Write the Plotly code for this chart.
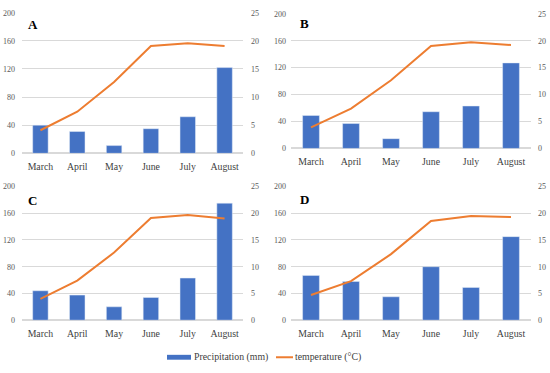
import plotly.graph_objects as go

months = ["March", "April", "May", "June", "July", "August"]
panel_labels = ["A", "B", "C", "D"]
precip_A = [40, 31, 11, 35, 52, 122]
precip_B = [49, 37, 14.5, 54.5, 63, 127]
precip_C = [44, 37.5, 20, 34, 63, 175]
precip_D = [67, 58, 35, 80, 49, 125]
temp_A = [4.1, 7.4, 12.7, 19.1, 19.6, 19.1]
temp_B = [3.9, 7.4, 12.65, 19.0, 19.7, 19.2]
temp_C = [4.0, 7.4, 12.65, 19.1, 19.65, 19.0]
temp_D = [4.7, 7.3, 12.35, 18.55, 19.5, 19.3]
precip_ticks = [0, 40, 80, 120, 160, 200]
temp_ticks = [0, 5, 10, 15, 20, 25]
legend_names = ["Precipitation (mm)", "temperature (°C)"]

precip = [precip_A, precip_B, precip_C, precip_D]
temp = [temp_A, temp_B, temp_C, temp_D]

W, H = 550, 373
# pixel boxes: (x0, x1, y_top(200), y_bottom(0))
boxes = [(22, 243, 9, 153), (291, 531, 10, 148), (22, 243, 187, 324), (291, 531, 187, 324)]
left_standoff = [6, 4, 6, 4]
right_standoff = [7, 6, 7, 6]

BLUE = "#4472C4"
ORANGE = "#ED7D31"
FONT = "Liberation Serif"
TICKC = "#595959"

fig = go.Figure()
layout = {}
for i in range(4):
    n = i + 1
    xs = "" if n == 1 else str(n)
    x0, x1, yt, yb = boxes[i]
    xdom = [x0 / W, x1 / W]
    ydom = [1 - yb / H, 1 - yt / H]
    fig.add_trace(go.Bar(x=months, y=precip[i], marker_color=BLUE,
                         name=legend_names[0], showlegend=False,
                         xaxis="x" + xs, yaxis="y" + xs))
    fig.add_trace(go.Scatter(x=months, y=temp[i], mode="lines",
                             line=dict(color=ORANGE, width=2),
                             name=legend_names[1], showlegend=False,
                             xaxis="x" + xs, yaxis="y" + str(n + 4)))
    layout["xaxis" + xs] = dict(domain=xdom, anchor="y" + xs, showgrid=False,
                                showline=False, ticks="",
                                tickfont=dict(family=FONT, size=9.8, color="#404040"),
                                ticklabelstandoff=6)
    layout["yaxis" + xs] = dict(domain=ydom, anchor="x" + xs, range=[0, 200],
                                tickvals=precip_ticks, showgrid=True,
                                gridcolor="#D9D9D9", gridwidth=1, zeroline=True,
                                zerolinecolor="#D9D9D9", showline=False,
                                tickfont=dict(family=FONT, size=8, color=TICKC),
                                ticklabelstandoff=left_standoff[i])
    layout["yaxis" + str(n + 4)] = dict(domain=ydom, anchor="x" + xs,
                                        overlaying="y" + xs, side="right",
                                        range=[0, 25], tickvals=temp_ticks,
                                        showgrid=False, zeroline=False, showline=False,
                                        tickfont=dict(family=FONT, size=8, color=TICKC),
                                        ticklabelstandoff=right_standoff[i])

label_pos = [(26, 21), (298, 20), (26, 201), (298, 200)]
annotations = []
for i, lab in enumerate(panel_labels):
    px, py = label_pos[i]
    annotations.append(dict(text="<b>" + lab + "</b>", x=px / W, y=1 - py / H,
                            xref="paper", yref="paper", xanchor="left", yanchor="middle",
                            showarrow=False,
                            font=dict(family=FONT, size=13, color="#000000")))

# manual legend
LY = 362
shapes = [
    dict(type="rect", xref="paper", yref="paper", x0=167 / W, x1=191 / W,
         y0=1 - (LY + 2.5) / H, y1=1 - (LY - 2.5) / H, fillcolor=BLUE, line=dict(width=0)),
    dict(type="line", xref="paper", yref="paper", x0=276 / W, x1=293 / W,
         y0=1 - LY / H, y1=1 - LY / H, line=dict(color=ORANGE, width=2)),
]
annotations.append(dict(text=legend_names[0], x=192 / W, y=1 - LY / H, xref="paper",
                        yref="paper", xanchor="left", yanchor="middle", showarrow=False,
                        font=dict(family=FONT, size=9.8, color="#404040")))
annotations.append(dict(text=legend_names[1], x=293 / W, y=1 - LY / H, xref="paper",
                        yref="paper", xanchor="left", yanchor="middle", showarrow=False,
                        font=dict(family=FONT, size=9.8, color="#404040")))

fig.update_layout(
    width=W, height=H,
    margin=dict(l=0, r=0, t=0, b=0),
    paper_bgcolor="white", plot_bgcolor="white",
    bargap=0.58,
    showlegend=False,
    annotations=annotations,
    shapes=shapes,
    **layout,
)
fig.write_html("out.html", config={"displayModeBar": False},
               post_script="document.body.style.margin='0px';")
